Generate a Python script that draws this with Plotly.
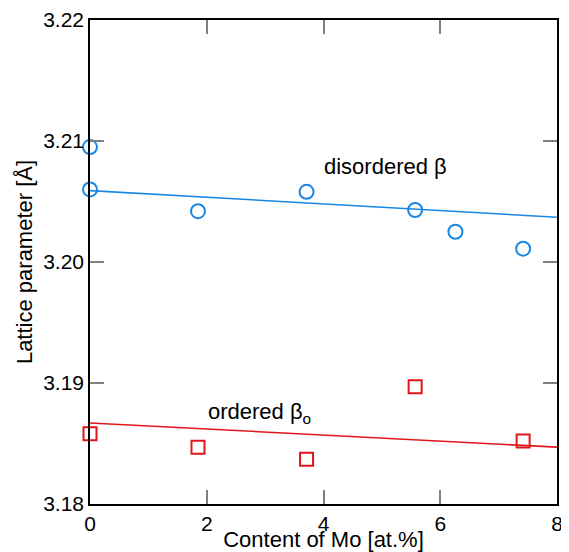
import plotly.graph_objects as go

# disordered beta (circles)
dis_x = [0.0, 0.0, 1.85, 3.71, 5.57, 6.26, 7.42]
dis_y = [3.2095, 3.2060, 3.2042, 3.2058, 3.2043, 3.2025, 3.2011]
dis_fit_x = [0.0, 8.0]
dis_fit_y = [3.2059, 3.2037]

# ordered beta_o (squares)
ord_x = [0.0, 1.85, 3.71, 5.57, 7.42]
ord_y = [3.1858, 3.1847, 3.1837, 3.1897, 3.1852]
ord_fit_x = [0.0, 8.0]
ord_fit_y = [3.1867, 3.1847]

x_ticks = [0, 2, 4, 6, 8]
y_ticks = [3.18, 3.19, 3.20, 3.21, 3.22]
y_tick_labels = ["3.18", "3.19", "3.20", "3.21", "3.22"]

BLUE = "#1a87e3"
RED = "#e0161b"
FONT = "Liberation Sans, Arial, sans-serif"

fig = go.Figure()
fig.add_trace(go.Scatter(x=dis_fit_x, y=dis_fit_y, mode="lines",
                         line=dict(color=BLUE, width=1.6), showlegend=False, cliponaxis=False))
fig.add_trace(go.Scatter(x=ord_fit_x, y=ord_fit_y, mode="lines",
                         line=dict(color=RED, width=1.6), showlegend=False, cliponaxis=False))
fig.add_trace(go.Scatter(x=dis_x, y=dis_y, mode="markers",
                         marker=dict(symbol="circle-open", size=14, color=BLUE, line=dict(width=2, color=BLUE)),
                         showlegend=False, cliponaxis=False))
fig.add_trace(go.Scatter(x=ord_x, y=ord_y, mode="markers",
                         marker=dict(symbol="square-open", size=13, color=RED, line=dict(width=2, color=RED)),
                         showlegend=False, cliponaxis=False))

fig.add_annotation(x=5.07, y=3.2079, xref="x", yref="y", text="disordered β", showarrow=False,
                   font=dict(family=FONT, size=22, color="black"), xanchor="center", yanchor="middle")
fig.add_annotation(x=1.98, y=3.1875, xref="x", yref="y", text="ordered β<sub>o</sub>", showarrow=False,
                   font=dict(family=FONT, size=22, color="black"), xanchor="left", yanchor="middle")

axis_common = dict(showline=True, linecolor="black", linewidth=1.5, mirror="allticks",
                   ticks="inside", ticklen=14, tickwidth=1.5, tickcolor="#808080",
                   showgrid=False, zeroline=False, automargin=False,
                   tickfont=dict(family=FONT, size=21, color="black"))

fig.update_xaxes(range=[0, 8], tickvals=x_ticks, ticktext=[str(v) for v in x_ticks],
                 title=dict(text="Content of Mo [at.%]", font=dict(family=FONT, size=22, color="black"), standoff=0),
                 **axis_common)
fig.update_yaxes(range=[3.18, 3.22], tickvals=y_ticks, ticktext=y_tick_labels,
                 title=dict(text="Lattice parameter [Å]", font=dict(family=FONT, size=22, color="black"), standoff=4),
                 **axis_common)

# page body adds an 8px margin, so the figure is sized to fit the window
fig.update_layout(width=561, height=544, margin=dict(l=82, r=12, t=12, b=48),
                  plot_bgcolor="white", paper_bgcolor="white", showlegend=False)

fig.write_html("out.html")
